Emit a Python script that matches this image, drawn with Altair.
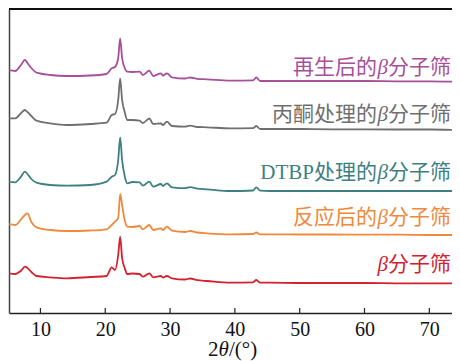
import altair as alt
import pandas as pd

# 2θ positions (degrees)
two_theta = [5, 6.1, 7.0, 7.6, 8.0, 8.6, 9.4, 11.5, 14.1, 17.7, 20.2, 21.0, 21.5, 22.0, 22.3,
             22.6, 23.0, 23.4, 24.2, 25.3, 25.8, 26.8, 27.4, 28.6, 28.9, 29.5, 30.3, 32.3, 33.1, 34.2,
             35.7, 39.3, 42.8, 43.3, 43.9, 45.4, 50, 55, 60, 65, 70, 75]

# stacked intensities (a.u., offset per sample)
beta_fresh = [39.7, 39, 42.3, 46.3, 45, 41, 37, 35.7, 34.7, 36, 37, 45.7, 43, 58, 76.3,
              55, 45, 39, 39.5, 39, 36.3, 39.7, 35.7, 37, 35.5, 37, 34.7, 33.5, 34.5, 32.8,
              32, 30.3, 30.6, 33, 30.3, 30.3, 30, 30, 30, 29.7, 29.7, 29.7]
beta_reacted = [89, 88, 93.7, 98, 99.7, 91, 85.7, 83, 82, 82.5, 83.7, 88, 91.3, 95, 119,
                108, 93, 86.3, 86, 87, 83.7, 88, 83, 84.7, 83, 86.3, 82.3, 81, 82, 80.5,
                79.7, 78.7, 79, 80.5, 78.7, 78.7, 78.5, 78.5, 78.3, 78.3, 78, 78]
beta_dtbp = [131.3, 130.7, 136.3, 141.3, 139, 134, 130.3, 128, 127.3, 128, 131.3, 136.3, 138, 153, 175.7,
             153, 137, 129.7, 131, 130.7, 127.3, 131.3, 126.3, 129, 127, 129.7, 125.7, 124.8, 125.8, 124.3,
             123.7, 122, 122.5, 125.7, 122.3, 122, 122, 122, 122, 122, 122, 122]
beta_acetone = [194.7, 194.7, 199.7, 203, 201, 197, 192.3, 189.7, 188, 189, 190.3, 198, 199, 213, 234.7,
                213, 201, 193, 193, 192.3, 190, 194.5, 189, 189.7, 188, 191.3, 187, 186.3, 187.3, 186,
                185.7, 184.7, 184.8, 187, 184, 184, 184, 183.7, 183.7, 183.5, 183.5, 183]
beta_regen = [243, 242, 248, 253, 250, 245, 240.3, 238, 237, 237.5, 239, 244.7, 246, 255, 274.7,
              255, 245, 241.3, 241, 241.3, 238, 242.3, 237, 239.7, 237.3, 239.7, 235.7, 234.5, 235.5, 234.2,
              233.7, 232.3, 232.6, 235.5, 232, 232, 232, 232, 232, 231.7, 231.7, 231.3]

series_names = ["β分子筛", "反应后的β分子筛", "DTBP处理的β分子筛", "丙酮处理的β分子筛", "再生后的β分子筛"]
series_values = [beta_fresh, beta_reacted, beta_dtbp, beta_acetone, beta_regen]
colors = ["#d3222f", "#f0893b", "#3e7f83", "#6f6f6f", "#a74f99"]

label_prefix = ["", "反应后的", "DTBP处理的", "丙酮处理的", "再生后的"]
label_beta = "β"
label_suffix = "分子筛"
label_level = [48, 95, 140, 198, 245]

x_ticks = [10, 20, 30, 40, 50, 60, 70]
x_domain = [5.15, 73.5]

W, H = 443, 304
SERIF = "Liberation Serif, Noto Sans CJK SC, serif"
LATIN = "Liberation Serif"

rows = []
for name, vals in zip(series_names, series_values):
    for t, v in zip(two_theta, vals):
        rows.append({"t": t, "v": v, "s": name})
df = pd.DataFrame(rows)

lab = pd.DataFrame({"t": [x_domain[1]] * 5, "v": label_level, "s": series_names,
                    "pre": label_prefix, "beta": [label_beta] * 5, "suf": [label_suffix] * 5})

xs = alt.Scale(domain=x_domain, nice=False, zero=False)
ys = alt.Scale(domain=[0, 304], nice=False, zero=False)
cs = alt.Scale(domain=series_names, range=colors)

lines = alt.Chart(df).mark_line(strokeWidth=1.8, interpolate="monotone", clip=True).encode(
    x=alt.X("t:Q", scale=xs,
            axis=alt.Axis(values=x_ticks, title=None, grid=False, tickSize=0, labelPadding=6,
                          labelFont=LATIN, labelFontSize=20, labelColor="#111",
                          domainColor="#222", domainWidth=1.5, format="d")),
    y=alt.Y("v:Q", scale=ys,
            axis=alt.Axis(labels=False, ticks=False, title=None, grid=False,
                          domainColor="#444", domainWidth=1.5)),
    color=alt.Color("s:N", scale=cs, legend=None),
    detail="s:N",
)

tick_df = pd.DataFrame({"t": x_ticks})
ticks = alt.Chart(tick_df).mark_rule(color="#222", strokeWidth=1.2).encode(
    x=alt.X("t:Q", scale=xs), y=alt.value(H), y2=alt.value(H - 5))

top = alt.Chart(tick_df).mark_rule(color="#111", strokeWidth=1.5).encode(
    x=alt.value(0), x2=alt.value(W), y=alt.value(0))

base_lab = alt.Chart(lab).encode(
    x=alt.X("t:Q", scale=xs), y=alt.Y("v:Q", scale=ys),
    color=alt.Color("s:N", scale=cs, legend=None))
suf = base_lab.mark_text(font=SERIF, fontSize=21, align="right", baseline="middle", dx=-1).encode(text="suf:N")
bet = base_lab.mark_text(font=LATIN, fontSize=21, fontStyle="italic", align="right",
                         baseline="middle", dx=-1 - 63).encode(text="beta:N")
pre = base_lab.mark_text(font=SERIF, fontSize=21, align="right", baseline="middle",
                         dx=-1 - 63 - 11).encode(text="pre:N")

title_df = pd.DataFrame({"a": ["2"], "b": ["θ"], "c": ["/(°)"]})
tbase = alt.Chart(title_df).encode(x=alt.value(199), y=alt.value(H + 43))
t1 = tbase.mark_text(font=LATIN, fontSize=21, align="left", baseline="alphabetic", color="#111").encode(text="a:N")
t2 = tbase.mark_text(font=LATIN, fontSize=21, fontStyle="italic", align="left", baseline="alphabetic",
                     color="#111", dx=10.5).encode(text="b:N")
t3 = tbase.mark_text(font=LATIN, fontSize=21, align="left", baseline="alphabetic", color="#111",
                     dx=21).encode(text="c:N")

chart = alt.layer(lines, ticks, top, suf, bet, pre, t1, t2, t3).properties(
    width=W, height=H,
    autosize=alt.AutoSizeParams(type="none"),
    padding={"left": 1, "top": 1, "right": 0, "bottom": 48},
).configure_view(stroke=None)

chart.save("out.html", embed_options={"renderer": "svg", "actions": False})
